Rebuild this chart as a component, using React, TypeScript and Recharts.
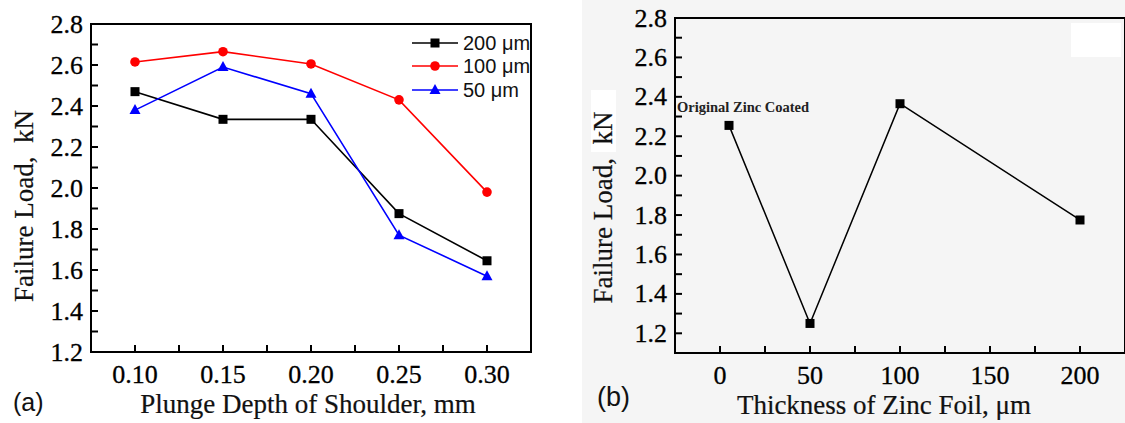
import React from 'react';
import { LineChart, Line, XAxis, YAxis, ReferenceArea } from 'recharts';

// Panel (a): failure load vs plunge depth, one series per foil thickness
const depth = [0.1, 0.15, 0.2, 0.25, 0.3];
const load200 = [2.47, 2.335, 2.335, 1.875, 1.645];
const load100 = [2.615, 2.665, 2.605, 2.43, 1.98];
const load50 = [2.38, 2.59, 2.46, 1.77, 1.57];

const depthTicks = [0.1, 0.15, 0.2, 0.25, 0.3];
const depthMinor = [0.125, 0.175, 0.225, 0.275];
const loadTicks = [1.2, 1.4, 1.6, 1.8, 2.0, 2.2, 2.4, 2.6, 2.8];
const loadMinor = [1.1, 1.3, 1.5, 1.7, 1.9, 2.1, 2.3, 2.5, 2.7];

// Panel (b): failure load vs zinc foil thickness
const thickness = [5, 50, 100, 200];
const loadFoil = [2.255, 1.25, 2.365, 1.775];
const thickTicks = [0, 50, 100, 150, 200];
const thickMinor = [25, 75, 125, 175];

const seriesA = [
  { key: 's200', name: '200 μm', color: '#000000', shape: 'square' },
  { key: 's100', name: '100 μm', color: '#ff0000', shape: 'circle' },
  { key: 's50', name: '50 μm', color: '#0000ff', shape: 'triangle' },
];

const dataA = depth.map((d, i) => ({ x: d, s200: load200[i], s100: load100[i], s50: load50[i] }));
const dataB = thickness.map((t, i) => ({ x: t, y: loadFoil[i] }));

const SERIF = '"Liberation Serif", "Times New Roman", serif';
const SANS = '"Liberation Sans", Arial, sans-serif';
const TICK_SIZE = -7; // ticks point into the plot
const TICK_MARGIN = 10;
const AXIS_SHIFT = TICK_SIZE + TICK_MARGIN; // label anchor = axis + shift

const isIn = (list: number[], v: number) => list.some((m) => Math.abs(m - v) < 1e-9);

const BottomTick = (major: number[], fmt: (v: number) => string) => (props: any) => {
  const { x, y, payload } = props;
  const axisY = y - AXIS_SHIFT;
  if (!isIn(major, payload.value)) return <g />;
  return (
    <text x={x} y={axisY + 22} textAnchor="middle" dominantBaseline="central"
      fontFamily={SERIF} fontSize={26} fill="#000" stroke="#000" strokeWidth={0.3}>
      {fmt(payload.value)}
    </text>
  );
};

const LeftTick = (major: number[]) => (props: any) => {
  const { x, y, payload } = props;
  const axisX = x + AXIS_SHIFT;
  if (!isIn(major, payload.value)) return <g />;
  return (
    <text x={axisX - 8} y={y} textAnchor="end" dominantBaseline="central"
      fontFamily={SERIF} fontSize={26} fill="#000" stroke="#000" strokeWidth={0.3}>
      {payload.value.toFixed(1)}
    </text>
  );
};

const yTitle = (dx: number, dy: number) => (props: any) => {
  const { x, y, height } = props.viewBox;
  const cx = x + dx;
  const cy = y + height / 2 + dy;
  return (
    <text x={cx} y={cy} transform={`rotate(-90 ${cx} ${cy})`} textAnchor="middle" dominantBaseline="central"
      fontFamily={SERIF} fontSize={27} fill="#111" stroke="#111" strokeWidth={0.2}>
      {'Failure Load,\u00a0\u00a0kN'}
    </text>
  );
};

const xTitle = (text: string, dx: number, dy: number) => (props: any) => {
  const { x, y, width } = props.viewBox;
  return (
    <text x={x + width / 2 + dx} y={y + dy} textAnchor="middle" dominantBaseline="central"
      fontFamily={SERIF} fontSize={27} fill="#111" stroke="#111" strokeWidth={0.2}>
      {text}
    </text>
  );
};

const Marker = ({ shape, color, cx, cy }: { shape: string; color: string; cx: number; cy: number }) => {
  if (shape === 'circle') return <circle cx={cx} cy={cy} r={4.8} fill={color} />;
  if (shape === 'triangle')
    return <polygon points={`${cx},${cy - 6} ${cx + 5.5},${cy + 4} ${cx - 5.5},${cy + 4}`} fill={color} />;
  return <rect x={cx - 4.5} y={cy - 4.5} width={9} height={9} fill={color} />;
};

const dotFor = (shape: string, color: string) => (p: any) => (
  <Marker key={`m-${p.index}`} shape={shape} color={color} cx={p.cx} cy={p.cy} />
);

const zincLabel = (p: any) =>
  p.index === 0 ? (
    <text key="zinc" x={p.x - 52} y={p.y - 18} dominantBaseline="central"
      fontFamily={SERIF} fontSize={14.5} fontWeight={700} fill="#222">
      Original Zinc Coated
    </text>
  ) : null;

const LegendA = () => (
  <div style={{ position: 'absolute', left: 412, top: 31, fontFamily: SANS, fontSize: 20, color: '#111' }}>
    {seriesA.map((s) => (
      <div key={s.key} style={{ display: 'flex', alignItems: 'center', height: 23.5 }}>
        <svg width={46} height={14} style={{ display: 'block' }}>
          <line x1={0} x2={46} y1={7} y2={7} stroke={s.color} strokeWidth={1.6} />
          <Marker shape={s.shape} color={s.color} cx={23} cy={7} />
        </svg>
        <span style={{ marginLeft: 5, lineHeight: 1 }}>{s.name}</span>
      </div>
    ))}
  </div>
);

const axisStyle = { stroke: '#000', strokeWidth: 2 };

export default function App() {
  return (
    <div style={{ position: 'fixed', left: 0, top: 0, width: 1125, height: 423, overflow: 'hidden', background: '#fff' }}>
      {/* grey scan background of the right panel */}
      <div style={{ position: 'absolute', left: 582, top: 0, width: 543, height: 423, background: '#f5f5f5' }} />
      <div style={{ position: 'absolute', left: 1071, top: 23, width: 50, height: 34, background: '#fff' }} />
      <div style={{ position: 'absolute', left: 591, top: 90, width: 25, height: 62, background: '#fff' }} />

      <div style={{ position: 'absolute', left: 0, top: 0 }}>
        <LineChart width={560} height={423} data={dataA} margin={{ top: 24, right: 29, bottom: 0, left: 0 }}>
          <ReferenceArea x1={0.075} x2={0.325} y1={1.2} y2={2.8} fill="none" fillOpacity={0} stroke="#000" strokeWidth={2} />
          <XAxis
            type="number"
            dataKey="x"
            domain={[0.075, 0.325]}
            ticks={[...depthTicks, ...depthMinor].sort((a, b) => a - b)}
            interval={0}
            height={71}
            tickSize={TICK_SIZE}
            tickMargin={TICK_MARGIN}
            tickLine={axisStyle}
            axisLine={axisStyle}
            tick={BottomTick(depthTicks, (v) => v.toFixed(2))}
            label={xTitle('Plunge Depth of Shoulder, mm', -3, 52)}
          />
          <YAxis
            type="number"
            domain={[1.2, 2.8]}
            ticks={[...loadTicks, ...loadMinor.filter((v) => v > 1.2)].sort((a, b) => a - b)}
            interval={0}
            width={91}
            tickSize={TICK_SIZE}
            tickMargin={TICK_MARGIN}
            tickLine={axisStyle}
            axisLine={axisStyle}
            tick={LeftTick(loadTicks)}
            label={yTitle(24, 18)}
          />
          {seriesA.map((s) => (
            <Line
              key={s.key}
              type="linear"
              dataKey={s.key}
              name={s.name}
              stroke={s.color}
              strokeWidth={1.6}
              dot={dotFor(s.shape, s.color)}
              activeDot={false}
              isAnimationActive={false}
            />
          ))}
        </LineChart>
        <LegendA />
      </div>

      <div style={{ position: 'absolute', left: 560, top: 0 }}>
        <LineChart width={600} height={423} data={dataB} margin={{ top: 18, right: 35, bottom: 0, left: 0 }}>
          <ReferenceArea x1={-25} x2={225} y1={1.1} y2={2.8} fill="none" fillOpacity={0} stroke="#000" strokeWidth={2} />
          <XAxis
            type="number"
            dataKey="x"
            domain={[-25, 225]}
            ticks={[...thickTicks, ...thickMinor].sort((a, b) => a - b)}
            interval={0}
            height={70}
            tickSize={TICK_SIZE}
            tickMargin={TICK_MARGIN}
            tickLine={axisStyle}
            axisLine={axisStyle}
            tick={BottomTick(thickTicks, (v) => String(v))}
            label={xTitle('Thickness of Zinc Foil, μm', -16, 52)}
          />
          <YAxis
            type="number"
            domain={[1.1, 2.8]}
            ticks={[...loadTicks, ...loadMinor].sort((a, b) => a - b)}
            interval={0}
            width={115}
            tickSize={TICK_SIZE}
            tickMargin={TICK_MARGIN}
            tickLine={axisStyle}
            axisLine={axisStyle}
            tick={LeftTick(loadTicks)}
            label={yTitle(43, 22)}
          />
          <Line
            type="linear"
            dataKey="y"
            name="Failure load"
            stroke="#000"
            strokeWidth={1.5}
            dot={dotFor('square', '#000')}
            activeDot={false}
            label={zincLabel}
            isAnimationActive={false}
          />
        </LineChart>
      </div>

      <div style={{ position: 'absolute', left: 13, top: 390, fontFamily: SANS, fontSize: 25, lineHeight: 1, color: '#111' }}>(a)</div>
      <div style={{ position: 'absolute', left: 597, top: 384, fontFamily: SANS, fontSize: 27, lineHeight: 1, color: '#111' }}>(b)</div>
    </div>
  );
}
